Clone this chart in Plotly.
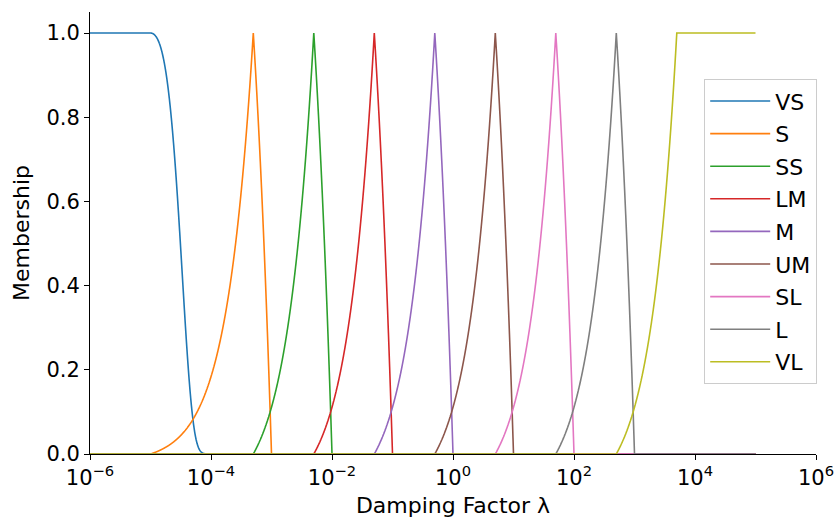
import numpy as np
import plotly.graph_objects as go

# Linguistic terms for the damping factor
terms = ["VS", "S", "SS", "LM", "M", "UM", "SL", "L", "VL"]

# VS: left shoulder, flat at 1 up to the mean, then a Gaussian fall-off
vs_mean = 1e-5
vs_sigma = 1.8e-5

# Triangular terms: (left foot, peak, right foot)
tri_params = {
    "S":  (1e-5, 5e-4, 1e-3),
    "SS": (5e-4, 5e-3, 1e-2),
    "LM": (5e-3, 5e-2, 1e-1),
    "M":  (5e-2, 5e-1, 1e0),
    "UM": (5e-1, 5e0, 1e1),
    "SL": (5e0, 5e1, 1e2),
    "L":  (5e1, 5e2, 1e3),
}

# VL: trapezoid (a, b, c, d)
vl_params = (5e2, 5e3, 1e5, 1e5)

# Universe of discourse
universe_lo, universe_hi = 1e-6, 1e5

# Axis ticks
x_exponents = [-6, -4, -2, 0, 2, 4, 6]
y_ticks = [0.0, 0.2, 0.4, 0.6, 0.8, 1.0]

colors = ["#1f77b4", "#ff7f0e", "#2ca02c", "#d62728", "#9467bd",
          "#8c564b", "#e377c2", "#7f7f7f", "#bcbd22"]


def trimf(x, a, b, c):
    y = np.zeros_like(x)
    up = (x >= a) & (x <= b)
    dn = (x > b) & (x <= c)
    y[up] = (x[up] - a) / (b - a)
    y[dn] = (c - x[dn]) / (c - b)
    return y


def trapmf(x, a, b, c, d):
    y = np.zeros_like(x)
    up = (x >= a) & (x < b)
    y[up] = (x[up] - a) / (b - a)
    y[(x >= b) & (x <= c)] = 1.0
    if d > c:
        dn = (x > c) & (x <= d)
        y[dn] = (d - x[dn]) / (d - c)
    return y


def left_gauss(x, mean, sigma):
    y = np.ones_like(x)
    r = x > mean
    y[r] = np.exp(-((x[r] - mean) ** 2) / (2 * sigma ** 2))
    return y


breaks = [vs_mean] + [v for p in tri_params.values() for v in p] + list(vl_params)
x = np.unique(np.concatenate([
    np.logspace(np.log10(universe_lo), np.log10(universe_hi), 6000),
    np.array(breaks),
]))

curves = {"VS": left_gauss(x, vs_mean, vs_sigma)}
for name, p in tri_params.items():
    curves[name] = trimf(x, *p)
curves["VL"] = trapmf(x, *vl_params)

font = "DejaVu Sans"
fs = 21
fig = go.Figure()
for name, col in zip(terms, colors):
    fig.add_trace(go.Scatter(
        x=x, y=curves[name], mode="lines", name=name,
        legendgroup=name,
        line=dict(color=col, width=1.6, simplify=False),
    ))

fig.update_layout(
    width=838, height=518,
    margin=dict(l=90, r=22, t=12, b=64),
    paper_bgcolor="white", plot_bgcolor="white",
    font=dict(family=font, size=fs, color="black"),
    showlegend=True,
    legend=dict(
        x=0.846, y=0.848, xanchor="left", yanchor="top",
        bordercolor="#cccccc", borderwidth=1, bgcolor="rgba(255,255,255,0.8)",
        font=dict(family=font, size=22, color="black"),
        tracegroupgap=1, itemwidth=60,
    ),
)

fig.update_xaxes(
    type="log", range=[-6, 6], automargin=False,
    tickmode="array",
    tickvals=[10.0 ** e for e in x_exponents],
    ticktext=["10<sup>%s</sup>" % (str(e).replace("-", "−")) for e in x_exponents],
    tickfont=dict(family=font, size=fs, color="black"),
    showgrid=False, zeroline=False,
    showline=True, linecolor="black", linewidth=1,
    ticks="outside", ticklen=5, tickcolor="black", tickwidth=1,
    title=dict(text="Damping Factor λ", standoff=8,
               font=dict(family=font, size=22, color="black")),
)
fig.update_yaxes(
    range=[0, 1.05], automargin=False, tickmode="array",
    tickvals=y_ticks, ticktext=["%.1f" % v for v in y_ticks],
    tickfont=dict(family=font, size=fs, color="black"),
    showgrid=False, zeroline=False,
    showline=True, linecolor="black", linewidth=1,
    ticks="outside", ticklen=5, tickcolor="black", tickwidth=1,
    title=dict(text="Membership", standoff=10,
               font=dict(family=font, size=22, color="black")),
)

fig.write_html("out.html")
